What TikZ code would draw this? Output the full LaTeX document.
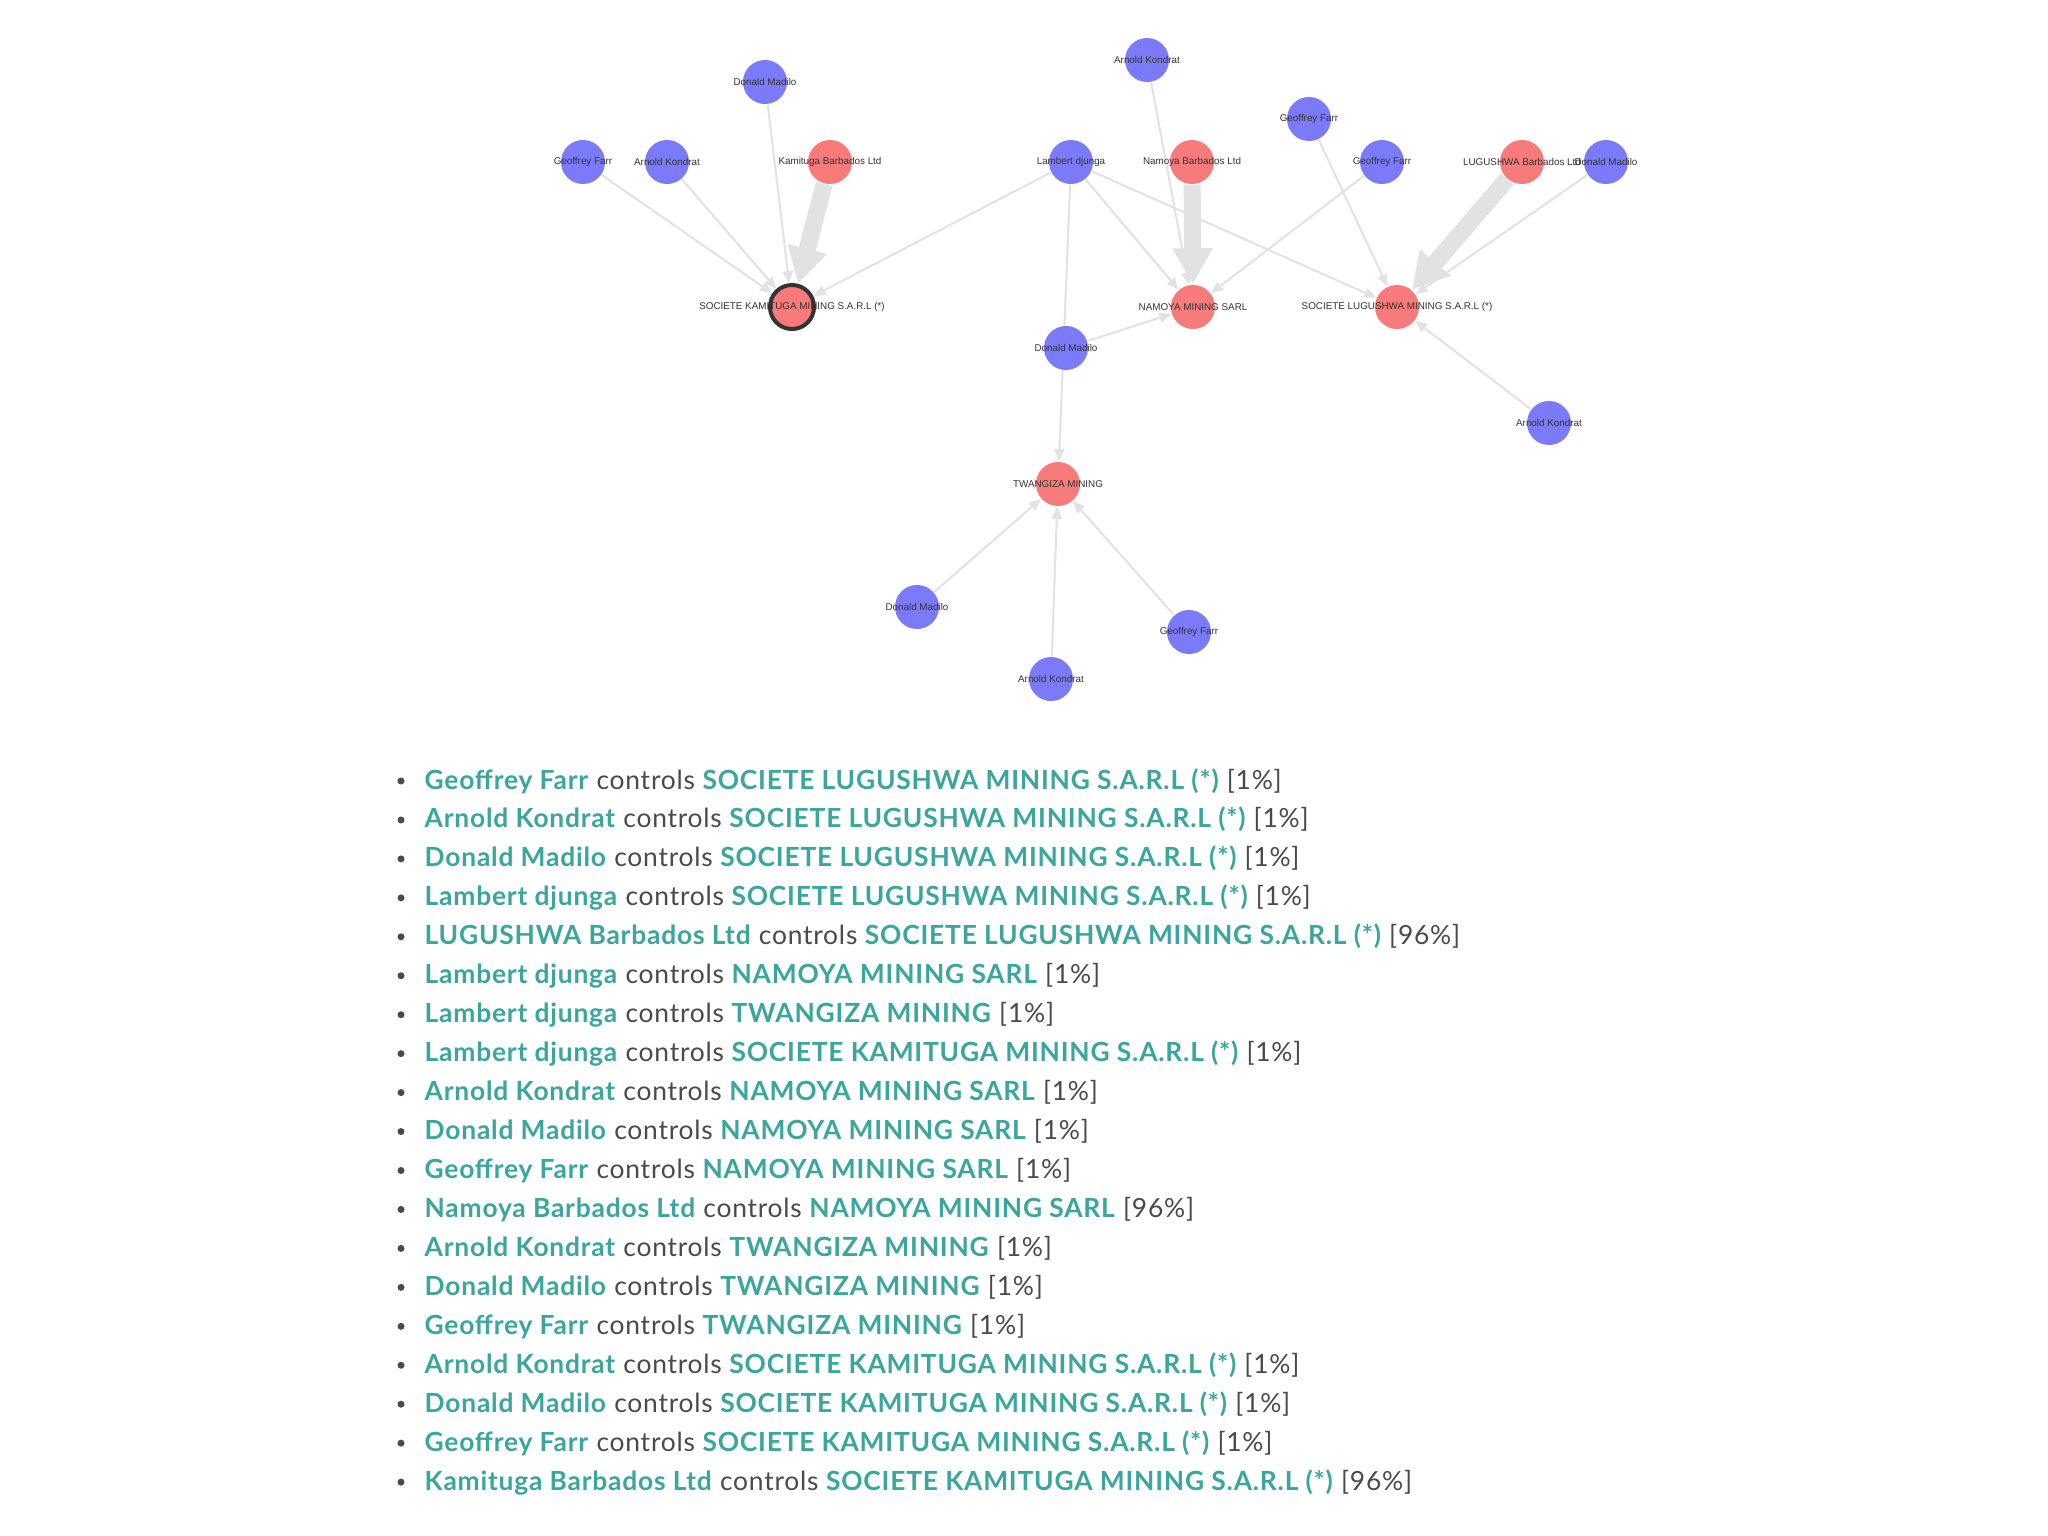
\documentclass[tikz,border=0pt]{standalone}
\usepackage{fontspec}
\setmainfont{Lato}[LetterSpace=3]
\newfontfamily\graphfont{Liberation Sans}
\usetikzlibrary{arrows.meta,backgrounds}
\definecolor{ownerColor}{HTML}{7B7BFA}
\definecolor{firmColor}{HTML}{F77B7B}
\definecolor{linkColor}{HTML}{E2E2E2}
\definecolor{nameColor}{HTML}{3AA69D}
\definecolor{textColor}{HTML}{4A4A4A}
\newcommand{\cLug}{SOCIETE LUGUSHWA MINING S.A.R.L (*)}
\newcommand{\cNam}{NAMOYA MINING SARL}
\newcommand{\cTwa}{TWANGIZA MINING}
\newcommand{\cKam}{SOCIETE KAMITUGA MINING S.A.R.L (*)}
\newcommand{\nm}[1]{\textcolor{nameColor}{\textbf{#1}}}

\begin{document}
\begin{tikzpicture}[x=0.01cm,y=-0.01cm,
	owner/.style={circle,fill=ownerColor,minimum size=0.44cm,inner sep=0pt},
	firm/.style={owner,fill=firmColor},
	tag/.style={font=\graphfont\fontsize{2.8pt}{3pt}\selectfont,text=black!80,inner sep=0pt},
	link/.style={draw=linkColor,line width=0.02cm,-{Triangle[length=0.12cm,width=0.1cm]}},
	share/.style={draw=linkColor,line width=0.17cm,-{Triangle[length=0.36cm,width=0.38cm]}},
	entry/.style={anchor=base west,inner sep=0pt,text=textColor,font=\fontsize{7.5pt}{8pt}\selectfont}]
	\useasboundingbox (0,0) rectangle (2048,1536);
	
	% Kamituga
	\node[owner,label={[tag]center:Donald Madilo}] (kDon) at (765,82) {};
	\node[owner,label={[tag]center:Geoffrey Farr}] (kGeo) at (583,162) {};
	\node[owner,label={[tag]center:Arnold Kondrat}] (kArn) at (667,162) {};
	\node[firm,label={[tag]center:Kamituga Barbados Ltd}] (kBar) at (830,162) {};
	\node[firm,draw=black!80,line width=0.04cm,label={[tag]center:SOCIETE KAMITUGA MINING S.A.R.L (*)}] (skm) at (792,307) {};
	
	% Namoya
	\node[owner,label={[tag]center:Lambert djunga}] (lam) at (1071,162) {};
	\node[owner,label={[tag]center:Arnold Kondrat}] (nArn) at (1147,60) {};
	\node[firm,label={[tag]center:Namoya Barbados Ltd}] (nBar) at (1192,162) {};
	\node[owner,label={[tag]center:Geoffrey Farr}] (nGeo) at (1382,162) {};
	\node[firm,label={[tag]center:NAMOYA MINING SARL}] (nms) at (1193,307) {};
	\node[owner,label={[tag]center:Donald Madilo}] (nDon) at (1066,348) {};
	
	% Lugushwa
	\node[owner,label={[tag]center:Geoffrey Farr}] (lGeo) at (1309,119) {};
	\node[firm,label={[tag]center:LUGUSHWA Barbados Ltd}] (lBar) at (1522,162) {};
	\node[owner,label={[tag]center:Donald Madilo}] (lDon) at (1606,162) {};
	\node[firm,label={[tag]center:SOCIETE LUGUSHWA MINING S.A.R.L (*)}] (slm) at (1397,307) {};
	\node[owner,label={[tag]center:Arnold Kondrat}] (lArn) at (1549,423) {};
	
	% Twangiza
	\node[firm,label={[tag]center:TWANGIZA MINING}] (twm) at (1058,484) {};
	\node[owner,label={[tag]center:Donald Madilo}] (tDon) at (917,607) {};
	\node[owner,label={[tag]center:Geoffrey Farr}] (tGeo) at (1189,632) {};
	\node[owner,label={[tag]center:Arnold Kondrat}] (tArn) at (1051,679) {};
	
	\begin{scope}[on background layer]
		\fill[white] (0,0) rectangle (2048,1536);
		\draw[link] (kGeo) -- (skm);
		\draw[link] (kArn) -- (skm);
		\draw[link] (kDon) -- (skm);
		\draw[share] (kBar) -- (skm);
		\draw[link] (lam) -- (skm);
		\draw[link] (lam) -- (nms);
		\draw[link] (lam) -- (slm);
		\draw[link] (lam) -- (twm);
		\draw[link] (nArn) -- (nms);
		\draw[share] (nBar) -- (nms);
		\draw[link] (nGeo) -- (nms);
		\draw[link] (nDon) -- (nms);
		\draw[link] (lGeo) -- (slm);
		\draw[share] (lBar) -- (slm);
		\draw[link] (lDon) -- (slm);
		\draw[link] (lArn) -- (slm);
		\draw[link] (tDon) -- (twm);
		\draw[link] (tArn) -- (twm);
		\draw[link] (tGeo) -- (twm);
	\end{scope}
	
	% list
	\foreach \who/\firm/\pct [count=\i from 0] in {
		Geoffrey Farr/\cLug/1, Arnold Kondrat/\cLug/1, Donald Madilo/\cLug/1,
		Lambert djunga/\cLug/1, LUGUSHWA Barbados Ltd/\cLug/96,
		Lambert djunga/\cNam/1, Lambert djunga/\cTwa/1, Lambert djunga/\cKam/1,
		Arnold Kondrat/\cNam/1, Donald Madilo/\cNam/1, Geoffrey Farr/\cNam/1,
		Namoya Barbados Ltd/\cNam/96, Arnold Kondrat/\cTwa/1, Donald Madilo/\cTwa/1,
		Geoffrey Farr/\cTwa/1, Arnold Kondrat/\cKam/1, Donald Madilo/\cKam/1,
		Geoffrey Farr/\cKam/1, Kamituga Barbados Ltd/\cKam/96}
	{
		\fill[textColor] (401,{781+38.95*\i}) circle (0.035cm);
		\node[entry] (e\i) at (424,{789+38.95*\i}) {\nm{\who} controls \nm{\firm} [\pct\%]};
	}
\end{tikzpicture}
\end{document}
